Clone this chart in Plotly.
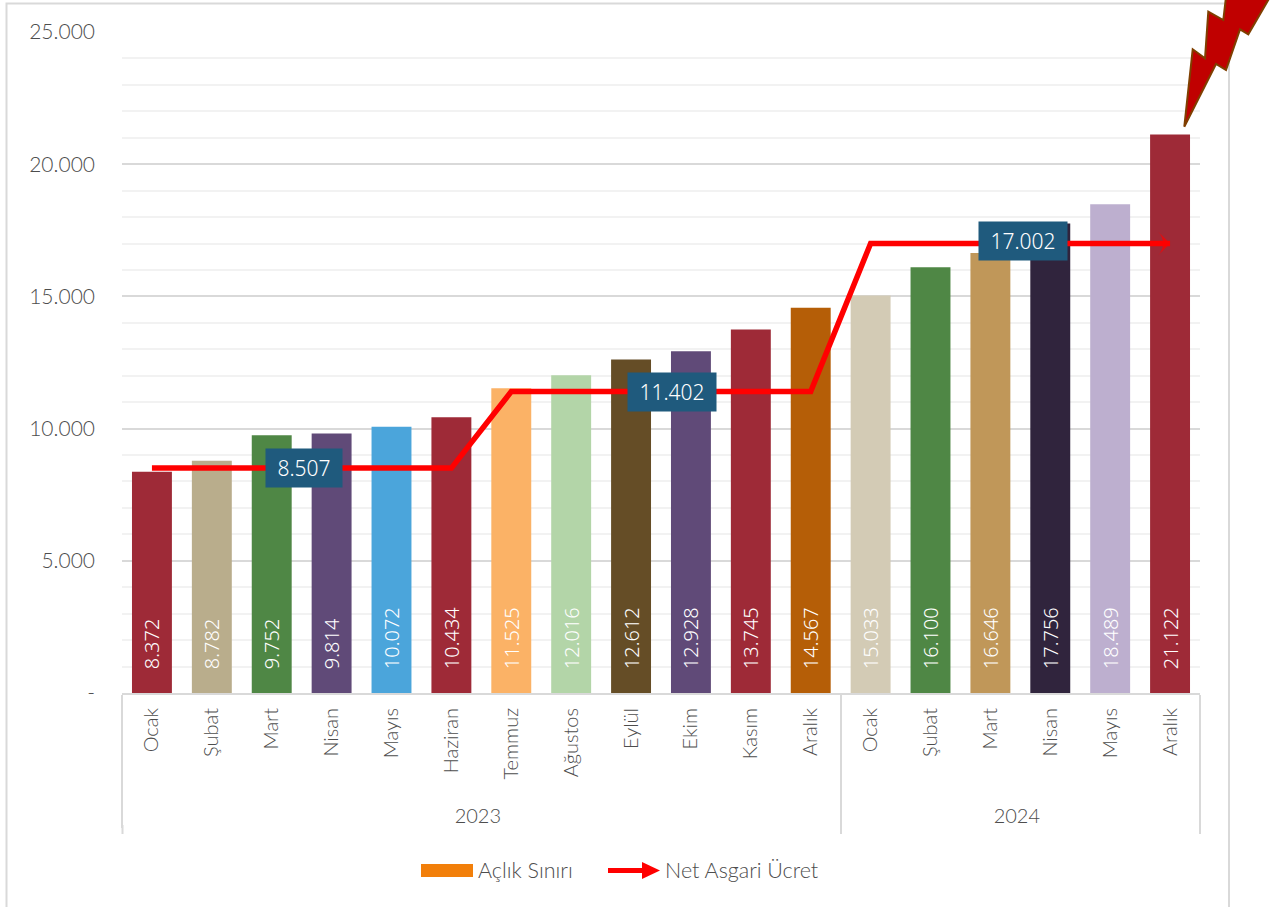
import plotly.graph_objects as go

years = ["2023"] * 12 + ["2024"] * 6
months = ["Ocak", "Şubat", "Mart", "Nisan", "Mayıs", "Haziran", "Temmuz", "Ağustos", "Eylül", "Ekim", "Kasım", "Aralık",
          "Ocak", "Şubat", "Mart", "Nisan", "Mayıs", "Aralık"]
hunger = [8372, 8782, 9752, 9814, 10072, 10434, 11525, 12016, 12612, 12928, 13745, 14567,
          15033, 16100, 16646, 17756, 18489, 21122]
wage = [8507] * 6 + [11402] * 6 + [17002] * 6
colors = ["#9E2A37", "#B9AD8C", "#4F8745", "#604A78", "#4BA5DB", "#9E2A37", "#FBB266", "#B3D5A8", "#654D26",
          "#604A78", "#9E2A37", "#B55E07", "#D3CBB5", "#4F8745", "#C09759", "#30243D", "#BDAFCF", "#9E2A37"]
wage_labels = [(2.54, 8507, 0), (8.68, 11402, 0), (14.54, 17002, 2)]
ytickvals = [0, 5000, 10000, 15000, 20000, 25000]
yticktext = ["-", "5.000", "10.000", "15.000", "20.000", "25.000"]

W, H = 1274, 907
L, R, T, B = 122, 1200, 32, 693
GREY = "#4D4D4D"
LABEL_FONT = "Noto Sans"
AXIS_FONT = "Lato"


def px(x):
    return (x - L) / (R - L)


def py(y):
    return (B - y) / (B - T)


def path(points, close=True):
    d = "M" + " L".join(f"{px(x):.5f},{py(y):.5f}" for x, y in points)
    return d + (" Z" if close else "")


# leading no-break spaces lengthen the tallest month label so the year row sits lower
month_labels = [("\u00a0\u00a0" + m if m == "Temmuz" else m) for m in months]

fig = go.Figure()
fig.add_bar(
    x=[years, month_labels], y=hunger, name="Açlık Sınırı", marker_color=colors, marker_line_width=0,
    texttemplate="\u00a0\u00a0\u00a0\u00a0%{y:,.0f}", textposition="inside", insidetextanchor="start", textangle=-90,
    insidetextfont=dict(family=LABEL_FONT, size=20, color="#FFFFFF", weight=300), cliponaxis=False, showlegend=False,
    hoverinfo="skip",
)
fig.add_scatter(
    x=[years, month_labels], y=wage, name="Net Asgari Ücret", mode="lines+markers",
    line=dict(color="#FF0000", width=5.5, shape="linear"),
    marker=dict(symbol=["circle"] * 17 + ["arrow-wide"], size=[0] * 17 + [17], angle=[0] * 17 + [90], color="#FF0000",
                line_width=0),
    cliponaxis=False, showlegend=False, hoverinfo="skip",
)

annotations = []
for (pos, val, shift), box_w in zip(wage_labels, [64, 76, 76]):
    annotations.append(dict(
        x=pos, y=val, xref="x", yref="y", yshift=shift, text=f"{val:,}".replace(",", "."), showarrow=False,
        bgcolor="#1F5A7D", font=dict(family=LABEL_FONT, size=21, color="#FFFFFF", weight=300),
        borderpad=6, width=box_w, height=26,
    ))
annotations += [
    dict(x=px(476), y=py(870), xref="paper", yref="paper", xanchor="left", yanchor="middle", text="Açlık Sınırı",
         showarrow=False, font=dict(family=AXIS_FONT, size=21.5, color=GREY, weight=300)),
    dict(x=px(663), y=py(870), xref="paper", yref="paper", xanchor="left", yanchor="middle", text="Net Asgari Ücret",
         showarrow=False, font=dict(family=AXIS_FONT, size=21.5, color=GREY, weight=300)),
]

bolt = [(1184.3, 126.7), (1192.7, 49.3), (1205, 58.3), (1208.3, 11.7), (1223.3, 20), (1226, -3), (1270, -3),
        (1248.3, 34.3), (1240, 29.3), (1226, 70), (1216, 64)]
shapes = [
    dict(type="path", xref="paper", yref="paper", path=path([(6.5, 910), (6.5, 3.5), (1229, 3.5), (1229, 910)], False),
         line=dict(color="#D9D9D9", width=2), layer="below"),
    dict(type="path", xref="paper", yref="paper", path=path(bolt), fillcolor="#C00000",
         line=dict(color="#7F3F00", width=2)),
    dict(type="rect", xref="paper", yref="paper", x0=px(421), x1=px(473), y0=py(877), y1=py(864),
         fillcolor="#F27F0A", line_width=0),
    dict(type="line", xref="paper", yref="paper", x0=px(608), x1=px(645), y0=py(870.5), y1=py(870.5),
         line=dict(color="#FF0000", width=5)),
    dict(type="path", xref="paper", yref="paper", path=path([(642, 862), (660, 870.5), (642, 879)]),
         fillcolor="#FF0000", line_width=0),
]
# the year dividers run a little below what the axis draws on its own
for div_x in (122.5, 841, 1200):
    shapes.append(dict(type="line", xref="paper", yref="paper", x0=px(div_x), x1=px(div_x), y0=py(825), y1=py(834),
                       line=dict(color="#D9D9D9", width=2)))

fig.update_layout(
    width=W, height=H, margin=dict(l=L, r=W - R, t=T, b=H - B, autoexpand=False),
    paper_bgcolor="#FFFFFF", plot_bgcolor="#FFFFFF", separators=",.", bargap=1 / 3,
    showlegend=False, annotations=annotations, shapes=shapes,
    font=dict(family=AXIS_FONT, size=20, color=GREY),
    xaxis=dict(type="multicategory", range=[-0.5, 17.5], showline=True, linecolor="#D9D9D9", linewidth=2, ticks="",
               tickangle=-90, showdividers=True, dividercolor="#D9D9D9", dividerwidth=2, ticklabelstandoff=5,
               tickfont=dict(family=AXIS_FONT, size=20, color=GREY, weight=300)),
    yaxis=dict(range=[0, 25000], tickvals=ytickvals, ticktext=yticktext, gridcolor="#D9D9D9", gridwidth=2,
               zeroline=False, showline=False, ticks="", ticklen=0, ticklabelstandoff=26,
               tickfont=dict(family=AXIS_FONT, size=21, color=GREY, weight=300),
               minor=dict(dtick=1000, tick0=0, showgrid=True, gridcolor="#F2F2F2", gridwidth=2)),
)

fig.write_html("out.html", config=dict(displayModeBar=False),
               post_script="document.body.style.margin='0';document.body.style.overflow='hidden';")
